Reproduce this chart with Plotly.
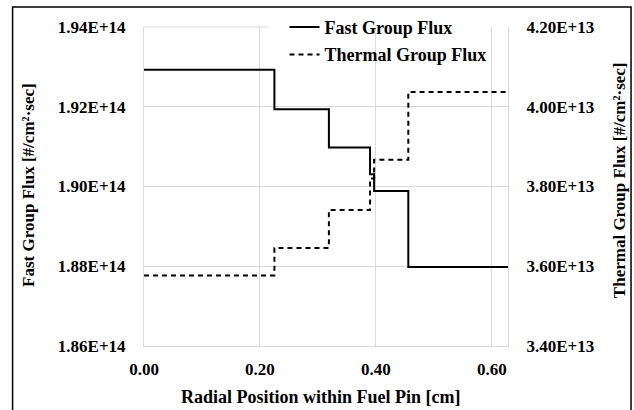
import plotly.graph_objects as go

# Step edges along the radius [cm]
radial_edges = [0.0, 0.225, 0.319, 0.390, 0.397, 0.456, 0.628]
# Group fluxes per radial region [#/cm^2-sec]
fast_flux = [1.9293e14, 1.9194e14, 1.90975e14, 1.9031e14, 1.8989e14, 1.8798e14]
thermal_flux = [3.577e13, 3.646e13, 3.741e13, 3.82e13, 3.867e13, 4.037e13]

x_ticks = [0.0, 0.2, 0.4, 0.6]
x_tick_labels = ["0.00", "0.20", "0.40", "0.60"]
left_ticks = [1.86e14, 1.88e14, 1.90e14, 1.92e14, 1.94e14]
left_tick_labels = ["1.86E+14", "1.88E+14", "1.90E+14", "1.92E+14", "1.94E+14"]
right_ticks = [3.4e13, 3.6e13, 3.8e13, 4.0e13, 4.2e13]
right_tick_labels = ["3.40E+13", "3.60E+13", "3.80E+13", "4.00E+13", "4.20E+13"]

FONT = "Liberation Serif"
GRID = "#d9d9d9"

fig = go.Figure()
fig.add_trace(go.Scatter(
    x=radial_edges, y=fast_flux + [fast_flux[-1]], mode="lines", line_shape="hv",
    name="Fast Group Flux", legendgroup="a",
    line=dict(color="black", width=2), yaxis="y"))
fig.add_trace(go.Scatter(
    x=radial_edges, y=thermal_flux + [thermal_flux[-1]], mode="lines", line_shape="hv",
    name="Thermal Group Flux", legendgroup="b",
    line=dict(color="black", width=2, dash="5px,4px"), yaxis="y2"))

tickfont = dict(family=FONT, size=17, color="black", weight="bold")

fig.update_layout(
    width=634, height=410,
    margin=dict(l=144, r=126, t=27, b=64, autoexpand=False),
    paper_bgcolor="white", plot_bgcolor="white",
    showlegend=True,
    legend=dict(x=0.386, y=1.057, xanchor="left", yanchor="top",
                bgcolor="rgba(0,0,0,0)", traceorder="grouped", tracegroupgap=1,
                font=dict(family=FONT, size=18, color="black", weight="bold")),
    xaxis=dict(range=[0, 0.628], tickvals=x_ticks, ticktext=x_tick_labels,
               showgrid=True, gridcolor=GRID, gridwidth=1, zeroline=False,
               showline=True, linecolor=GRID, linewidth=1, automargin=False,
               ticks="", tickfont=tickfont, ticklabelstandoff=8),
    yaxis=dict(range=[1.86e14, 1.94e14], tickvals=left_ticks, ticktext=left_tick_labels,
               showgrid=True, gridcolor=GRID, gridwidth=1, zeroline=False,
               showline=True, linecolor=GRID, linewidth=1, automargin=False,
               ticks="", tickfont=tickfont, ticklabelstandoff=14),
    yaxis2=dict(range=[3.4e13, 4.2e13], tickvals=right_ticks, ticktext=right_tick_labels,
                overlaying="y", side="right", showgrid=False, zeroline=False,
                showline=True, linecolor=GRID, linewidth=1, automargin=False,
                ticks="", tickfont=tickfont, ticklabelstandoff=14),
    shapes=[
        # top gridline (1.94E+14) left of the legend box
        dict(type="line", xref="paper", yref="paper", x0=0, x1=0.34, y0=1, y1=1,
             line=dict(color=GRID, width=1), layer="below"),
        dict(type="rect", xref="paper", yref="paper", x0=0.34, x1=1.006, y0=0.87, y1=1.01,
             fillcolor="white", line=dict(width=0), layer="between"),
        dict(type="rect", xref="paper", yref="paper", x0=-0.361, x1=1.338, y0=-0.3, y1=1.063,
             fillcolor="rgba(0,0,0,0)", line=dict(color="black", width=1.5), layer="above"),
    ],
    annotations=[
        dict(text="Fast Group Flux [#/cm²·sec]", xref="paper", yref="paper",
             x=-0.316, y=0.505, textangle=-90, showarrow=False,
             xanchor="center", yanchor="middle",
             font=dict(family=FONT, size=17, color="black", weight="bold")),
        dict(text="Thermal Group Flux [#/cm²·sec]", xref="paper", yref="paper",
             x=1.305, y=0.52, textangle=-90, showarrow=False,
             xanchor="center", yanchor="middle",
             font=dict(family=FONT, size=17, color="black", weight="bold")),
        dict(text="Radial Position within Fuel Pin [cm]", xref="paper", yref="paper",
             x=0.486, y=-0.16, showarrow=False, xanchor="center", yanchor="middle",
             font=dict(family=FONT, size=18, color="black", weight="bold")),
    ],
)

fig.write_html("out.html",
               config={"displayModeBar": False},
               post_script="document.body.style.margin='0';document.body.style.padding='0';")
